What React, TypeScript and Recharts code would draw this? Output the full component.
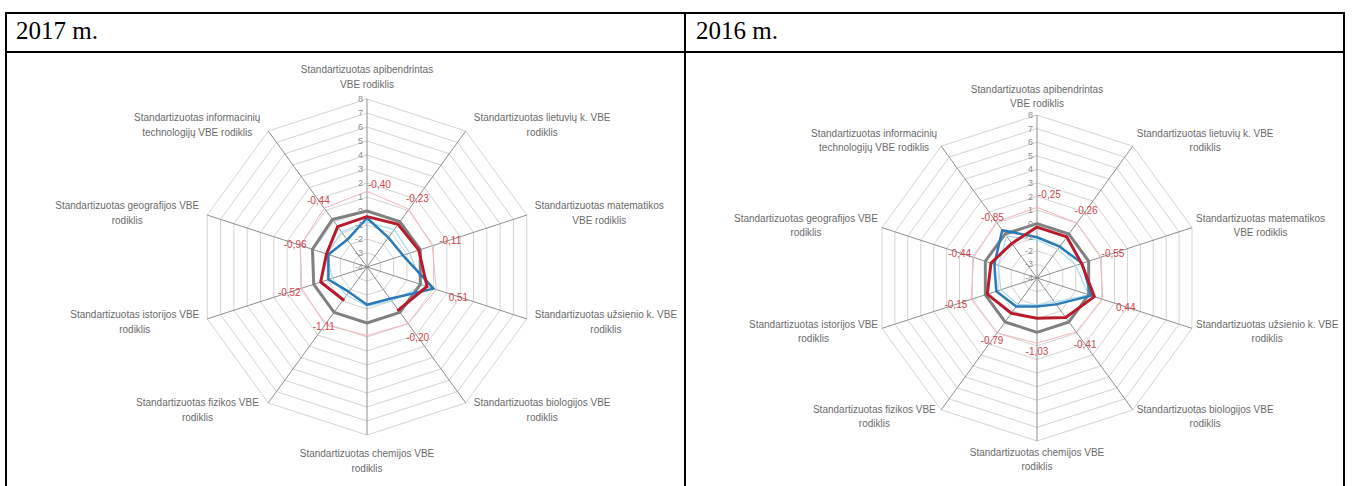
import { PolarAngleAxis, PolarGrid, PolarRadiusAxis, Radar, RadarChart } from "recharts";

// spoke labels (two lines each), clockwise from the top
const subjectLines = [
  ["Standartizuotas apibendrintas", "VBE rodiklis"],
  ["Standartizuotas lietuvių k. VBE", "rodiklis"],
  ["Standartizuotas matematikos", "VBE rodiklis"],
  ["Standartizuotas užsienio k. VBE", "rodiklis"],
  ["Standartizuotas biologijos VBE", "rodiklis"],
  ["Standartizuotas chemijos  VBE", "rodiklis"],
  ["Standartizuotas fizikos  VBE", "rodiklis"],
  ["Standartizuotas istorijos VBE", "rodiklis"],
  ["Standartizuotas geografijos VBE", "rodiklis"],
  ["Standartizuotas informacinių", "technologijų VBE rodiklis"],
];
const subjects = subjectLines.map((l) => l.join(" "));

const radiusTicks = [-4, -3, -2, -1, 0, 1, 2, 3, 4, 5, 6, 7, 8];

// 2017
const school2017 = [-0.4, -0.23, -0.11, 0.51, -0.2, null, -1.11, -0.52, -0.96, -0.44];
const blue2017 = [-0.5, -1.4, -1.3, 1.0, -1.2, -1.3, -1.8, -1.1, -1.1, -1.6];
const country2017 = [0, 0, 0, 0, 0, 0, 0, 0, 0.1, 0.2];
const cyan2017 = [-0.8, -0.7, -0.8, 0.2, -1.0, -1.2, -1.5, -1.4, -1.0, -0.9];
const pink2017 = [1.4, 1.1, 0.9, 1.2, 1.0, 0.9, 1.1, 0.9, 1.0, 1.2];

// 2016
const school2016 = [-0.25, -0.26, -0.55, 0.44, -0.41, -1.03, -0.79, -0.15, -0.44, -0.85];
const blue2016 = [-1.0, -1.15, -0.5, 0.2, -1.6, -1.9, -1.4, -0.85, -0.7, 0.35];
const country2016 = [0, 0, 0, 0, 0, 0, 0, 0, 0, 0];
const cyan2016 = [-1.2, -1.4, -1.0, 0.0, -1.8, -2.0, -1.6, -1.2, -1.0, -0.2];
const pink2016 = [1.2, 1.0, 0.9, 1.1, 0.9, 0.8, 1.0, 1.1, 0.9, 1.1];

const FONT_FAMILY = "'Liberation Sans', Arial, sans-serif";
const LABEL_FONT = `10px ${FONT_FAMILY}`;

let measureCtx: CanvasRenderingContext2D | null = null;
function textWidth(s: string) {
  if (!measureCtx) measureCtx = document.createElement("canvas").getContext("2d");
  if (!measureCtx) return s.length * 5;
  measureCtx.font = LABEL_FONT;
  return measureCtx.measureText(s).width;
}

function makeAngleTick(cx: number, cy: number, r: number, lineH: number, hGap: number, topGap: number, bottomGap: number) {
  return (props: any) => {
    const { x, y, payload } = props;
    const idx = subjects.indexOf(payload.value);
    const lines = idx >= 0 ? subjectLines[idx] : [String(payload.value)];
    const dx = x - cx;
    const dy = y - cy;
    const len = Math.hypot(dx, dy) || 1;
    const ux = dx / len;
    const uy = dy / len;
    const vx = cx + ux * r;
    const vy = cy + uy * r;
    const w = Math.max(...lines.map(textWidth));
    const h = lines.length * lineH;
    let bx = vx;
    let by = vy;
    if (Math.abs(ux) < 0.05) {
      by = uy < 0 ? vy - topGap - h / 2 : vy + bottomGap + h / 2;
    } else {
      bx = ux > 0 ? vx + hGap + w / 2 : vx - hGap - w / 2;
      by = vy + uy * 8;
    }
    return (
      <text textAnchor="middle" fontSize={10} fontFamily={FONT_FAMILY} fill="#6b6b6b">
        {lines.map((l, i) => (
          <tspan key={i} x={bx} y={by - h / 2 + lineH * (i + 0.78)}>
            {l}
          </tspan>
        ))}
      </text>
    );
  };
}

const radiusTick = (props: any) => (
  <text x={props.x - 4} y={props.y + 3} textAnchor="end" fontSize={9} fontFamily={FONT_FAMILY} fill="#8c8c8c">
    {props.payload.value}
  </text>
);

function fmt(v: number) {
  return v.toFixed(2).replace(".", ",");
}

function isMissing(v: unknown) {
  return v === null || v === undefined || (typeof v === "number" && !Number.isFinite(v));
}

// draws the series outline with gaps where a value is missing, and optional value labels
function makeShape(stroke: string, width: number, labelOffset = 0) {
  return (props: any) => {
    const pts: any[] = props.points || [];
    const n = pts.length;
    const ok = pts.map((p) => !isMissing(p.value) && Number.isFinite(p.x) && Number.isFinite(p.y));
    let d = "";
    if (ok.every(Boolean)) {
      d = pts.map((p, i) => `${i ? "L" : "M"}${p.x},${p.y}`).join("") + "Z";
    } else {
      const start = ok.findIndex((v: boolean) => !v);
      let pen = false;
      for (let k = 1; k <= n; k++) {
        const i = (start + k) % n;
        if (!ok[i]) {
          pen = false;
          continue;
        }
        d += `${pen ? "L" : "M"}${pts[i].x},${pts[i].y}`;
        pen = true;
      }
    }
    return (
      <g>
        <path d={d} fill="none" stroke={stroke} strokeWidth={width} strokeLinejoin="round" strokeLinecap="round" />
        {labelOffset > 0 &&
          pts.map((p, i) => {
            if (!ok[i]) return null;
            const dx = p.x - p.cx;
            const dy = p.y - p.cy;
            const len = Math.hypot(dx, dy) || 1;
            const ux = dx / len;
            const top = Math.abs(ux) < 0.05 && dy < 0;
            const lx = p.x + ux * labelOffset;
            const ly = p.y + (dy / len) * labelOffset;
            return (
              <text
                key={i}
                x={top ? p.x + 1 : lx}
                y={ly + 4}
                textAnchor={top ? "start" : "middle"}
                fontSize={10}
                fontFamily={FONT_FAMILY}
                fill="#d0454c"
              >
                {fmt(p.value)}
              </text>
            );
          })}
      </g>
    );
  };
}

function makeDot(fill: string, r: number) {
  return (p: any) => {
    const key = p.key ?? `d-${p.index}`;
    const v = p.payload?.value;
    if (isMissing(v) || !Number.isFinite(p.cx) || !Number.isFinite(p.cy)) return <g key={key} />;
    return <circle key={key} cx={p.cx} cy={p.cy} r={r} fill={fill} stroke="none" />;
  };
}

type SpiderProps = {
  width: number;
  height: number;
  cx: number;
  cy: number;
  r: number;
  lineH: number;
  hGap: number;
  topGap: number;
  bottomGap: number;
  school: (number | null)[];
  blue: number[];
  country: number[];
  cyan: number[];
  pink: number[];
};

function Spider({ width, height, cx, cy, r, lineH, hGap, topGap, bottomGap, school, blue, country, cyan, pink }: SpiderProps) {
  const data = subjects.map((s, i) => ({
    subject: s,
    school: school[i],
    blue: blue[i],
    country: country[i],
    cyan: cyan[i],
    pink: pink[i],
  }));
  return (
    <RadarChart
      width={width}
      height={height}
      data={data}
      cx={cx}
      cy={cy}
      outerRadius={r}
      margin={{ top: 0, right: 0, bottom: 0, left: 0 }}
      style={{ overflow: "visible" }}
    >
      <PolarGrid gridType="polygon" radialLines={false} stroke="#d4d4d4" strokeWidth={1} />
      <PolarGrid gridType="polygon" polarRadius={[0]} stroke="#8f8f8f" strokeWidth={1} />
      <PolarAngleAxis
        dataKey="subject"
        axisLine={false}
        tickLine={false}
        tick={makeAngleTick(cx, cy, r, lineH, hGap, topGap, bottomGap)}
      />
      <PolarRadiusAxis angle={90} domain={[-4, 8]} ticks={radiusTicks} axisLine={false} tickLine={false} tick={radiusTick} />
      <Radar dataKey="pink" stroke="#f5b5b8" strokeWidth={1} fill="none" dot={false} isAnimationActive={false} />
      <Radar dataKey="cyan" stroke="#a8dcf0" strokeWidth={1.2} fill="none" dot={false} isAnimationActive={false} />
      <Radar
        dataKey="country"
        stroke="#808080"
        fill="none"
        shape={makeShape("#808080", 3)}
        dot={makeDot("#808080", 2.5)}
        isAnimationActive={false}
      />
      <Radar
        dataKey="blue"
        stroke="#2a7ab8"
        fill="none"
        shape={makeShape("#2a7ab8", 2.5)}
        dot={makeDot("#2a7ab8", 2)}
        isAnimationActive={false}
      />
      <Radar
        dataKey="school"
        stroke="#b71c2c"
        fill="none"
        shape={makeShape("#b71c2c", 3, 33)}
        dot={makeDot("#b71c2c", 3)}
        isAnimationActive={false}
      />
    </RadarChart>
  );
}

const line = "#000";
const headerText = {
  position: "absolute" as const,
  top: 16,
  fontFamily: "'Liberation Serif', 'Times New Roman', serif",
  fontSize: 25,
  lineHeight: "30px",
  color: "#000",
};

export default function App() {
  return (
    <div
      style={{
        position: "absolute",
        left: 0,
        top: 0,
        width: 1359,
        height: 486,
        background: "#fff",
        overflow: "hidden",
      }}
    >
      <div style={{ position: "absolute", left: 7, top: 53 }}>
        <Spider
          width={677}
          height={433}
          cx={360}
          cy={214}
          r={168}
          lineH={15}
          hGap={8}
          topGap={8}
          bottomGap={10}
          school={school2017}
          blue={blue2017}
          country={country2017}
          cyan={cyan2017}
          pink={pink2017}
        />
      </div>
      <div style={{ position: "absolute", left: 686, top: 53 }}>
        <Spider
          width={657}
          height={433}
          cx={351}
          cy={225}
          r={163}
          lineH={14}
          hGap={4}
          topGap={5}
          bottomGap={4}
          school={school2016}
          blue={blue2016}
          country={country2016}
          cyan={cyan2016}
          pink={pink2016}
        />
      </div>

      {/* table frame */}
      <div style={{ position: "absolute", left: 5, top: 12, width: 1340, height: 2, background: line }} />
      <div style={{ position: "absolute", left: 5, top: 51, width: 1340, height: 2, background: line }} />
      <div style={{ position: "absolute", left: 5, top: 12, width: 2, height: 474, background: line }} />
      <div style={{ position: "absolute", left: 684, top: 12, width: 2, height: 474, background: line }} />
      <div style={{ position: "absolute", left: 1343, top: 12, width: 2, height: 474, background: line }} />
      <div style={{ ...headerText, left: 16 }}>2017 m.</div>
      <div style={{ ...headerText, left: 696 }}>2016 m.</div>
    </div>
  );
}
